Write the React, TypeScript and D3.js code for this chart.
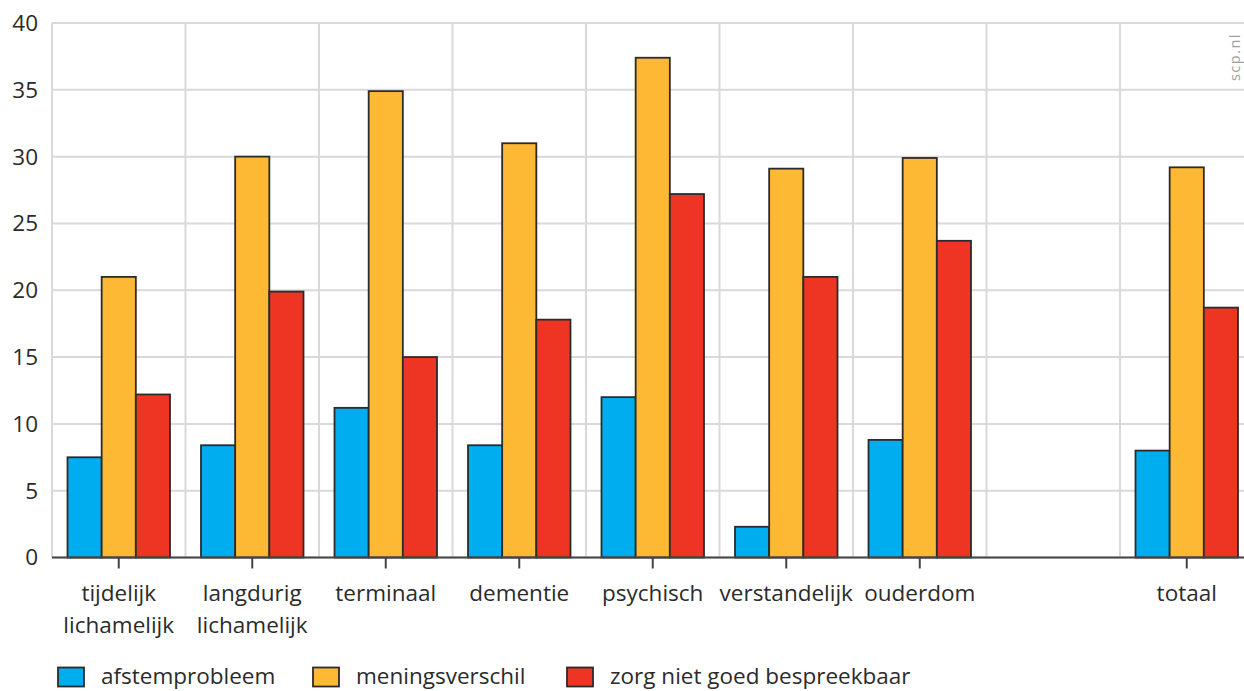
import React from "react";
import * as d3 from "d3";

const categories = ["tijdelijk\nlichamelijk", "langdurig\nlichamelijk", "terminaal", "dementie", "psychisch", "verstandelijk", "ouderdom", "", "totaal"];
const seriesNames = ["afstemprobleem", "meningsverschil", "zorg niet goed bespreekbaar"];
const afstemprobleem = [7.5, 8.4, 11.2, 8.4, 12.0, 2.3, 8.8, null, 8.0];
const meningsverschil = [21.0, 30.0, 34.9, 31.0, 37.4, 29.1, 29.9, null, 29.2];
const zorgNietBespreekbaar = [12.2, 19.9, 15.0, 17.8, 27.2, 21.0, 23.7, null, 18.7];
const yTicks = [0, 5, 10, 15, 20, 25, 30, 35, 40];
const colors = ["#00AEEF", "#FDB933", "#EE3524"];

const W = 1244;
const H = 691;
const FONT = "'Open Sans', 'Noto Sans', sans-serif";
const TEXT = "#2b2b2b";
const FS = 22.5;

export default function App() {
  const series = [afstemprobleem, meningsverschil, zorgNietBespreekbaar];
  const keys = categories.map((_, i) => String(i));
  const x = d3.scaleBand<string>().domain(keys).range([52, 52 + 9 * 133.5]).padding(0);
  const bw = x.bandwidth();
  const xs = d3.scaleBand<string>().domain(seriesNames).range([15.5, bw - 15.5]).padding(0);
  const y = d3.scaleLinear().domain([0, 40]).range([557.5, 23]);

  return (
    <svg width={W} height={H} style={{ position: "absolute", left: 0, top: 0, background: "#fff" }} fontFamily={FONT}>
      {yTicks.map((t) => (
        <line key={"h" + t} x1={52} x2={W + 20} y1={y(t)} y2={y(t)} stroke="#d9d9d9" strokeWidth={2} />
      ))}
      {keys.map((k) => (
        <line key={"v" + k} x1={x(k)!} x2={x(k)!} y1={y(40)} y2={y(0)} stroke="#d9d9d9" strokeWidth={2} />
      ))}
      {yTicks.map((t) => (
        <text key={"yl" + t} x={38} y={y(t)} dy="0.35em" textAnchor="end" fontSize={FS} fill={TEXT}>
          {t}
        </text>
      ))}
      {keys.map((k, i) =>
        series.map((s, j) => {
          const v = s[i];
          if (v == null) return null;
          return (
            <rect
              key={k + "-" + j}
              x={x(k)! + xs(seriesNames[j])!}
              y={y(v)}
              width={xs.bandwidth()}
              height={y(0) - y(v)}
              fill={colors[j]}
              stroke="#2b2b2b"
              strokeWidth={1.8}
            />
          );
        })
      )}
      <line x1={52} x2={W + 20} y1={y(0)} y2={y(0)} stroke="#444" strokeWidth={2} />
      {keys.map((k, i) => {
        const cx = x(k)! + bw / 2;
        const lines = categories[i].split("\n");
        return (
          <g key={"xt" + k}>
            {categories[i] !== "" && <line x1={cx} x2={cx} y1={y(0)} y2={y(0) + 11} stroke="#444" strokeWidth={2} />}
            {lines.map((ln, li) => (
              <text key={li} x={cx} y={601 + li * 32} textAnchor="middle" fontSize={FS} fill={TEXT}>
                {ln}
              </text>
            ))}
          </g>
        );
      })}
      {seriesNames.map((n, j) => {
        const lx = [58, 313, 567][j];
        return (
          <g key={"lg" + j}>
            <rect x={lx} y={667.5} width={26} height={19} fill={colors[j]} stroke="#2b2b2b" strokeWidth={1.8} />
            <text x={lx + 43} y={684} fontSize={FS} fill={TEXT}>
              {n}
            </text>
          </g>
        );
      })}
      <text transform="translate(1240,33) rotate(-90)" textAnchor="end" fontSize={14.5} letterSpacing={1.5} fill="#a0a0a0">
        scp.nl
      </text>
    </svg>
  );
}
